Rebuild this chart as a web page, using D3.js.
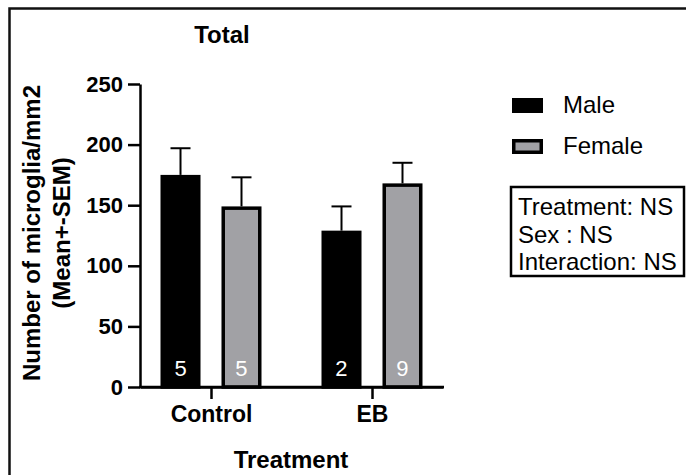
<!DOCTYPE html>
<html>
<head>
<meta charset="utf-8">
<script src="https://cdn.jsdelivr.net/npm/d3@7"></script>
<style>
  body { margin: 0; background: #fff; }
  svg { display: block; font-family: Arial, "Liberation Sans", sans-serif; }
</style>
</head>
<body>
<svg width="686" height="475"></svg>
<script>
var groups = ["Control", "EB"];
var sexes = ["Male", "Female"];
var maleMean = [175, 129];
var femaleMean = [149, 168];
var maleSem = [22, 20];
var femaleSem = [24, 17];
var maleN = [5, 2];
var femaleN = [5, 9];
var yTicks = [0, 50, 100, 150, 200, 250];
var statsLines = ["Treatment: NS", "Sex : NS", "Interaction: NS"];

var colors = {Male: "#000000", Female: "#a1a1a5"};

var data = [];
groups.forEach(function(g, i){
    data.push({group: g, sex: "Male", mean: maleMean[i], sem: maleSem[i], n: maleN[i]});
    data.push({group: g, sex: "Female", mean: femaleMean[i], sem: femaleSem[i], n: femaleN[i]});
});

var svg = d3.select("svg");

// outer frame (runs off right / bottom edge)
svg.append("rect")
    .attr("x", 9.5).attr("y", 8.5)
    .attr("width", 760).attr("height", 560)
    .attr("fill", "none")
    .attr("stroke", "#111")
    .attr("stroke-width", 2.5);

var y = d3.scaleLinear().domain([0, 250]).range([387, 84]);
var x = d3.scalePoint().domain(groups).range([140, 443]).padding(0.441);
var xs = d3.scaleBand().domain(sexes).range([-50.5, 50.5]).paddingInner(0.344);

var yAxis = svg.append("g")
    .attr("transform", "translate(140,0)")
    .call(d3.axisLeft(y).tickValues(yTicks).tickSize(12).tickSizeOuter(0).tickPadding(5));
var xAxis = svg.append("g")
    .attr("transform", "translate(0,387)")
    .call(d3.axisBottom(x).tickSize(12).tickSizeOuter(0).tickPadding(7));

[yAxis, xAxis].forEach(function(a){
    a.selectAll("path, line").attr("stroke", "#000").attr("stroke-width", 2.5);
    a.selectAll("text")
        .attr("fill", "#000")
        .attr("font-family", "Arial, 'Liberation Sans', sans-serif")
        .attr("font-weight", "bold");
});
yAxis.selectAll("text").attr("font-size", 22);
xAxis.selectAll("text").attr("font-size", 23);

var sw = 3.5;
var bar = svg.append("g").selectAll("g")
    .data(data)
    .enter().append("g")
        .attr("transform", function(d){ return "translate(" + (x(d.group) + xs(d.sex)) + ",0)"; });

// error bars first so the bar covers the lower part
bar.append("line")
    .attr("x1", xs.bandwidth() / 2).attr("x2", xs.bandwidth() / 2)
    .attr("y1", function(d){ return y(d.mean); })
    .attr("y2", function(d){ return y(d.mean + d.sem); })
    .attr("stroke", "#000").attr("stroke-width", 2);
bar.append("line")
    .attr("x1", xs.bandwidth() / 2 - 10).attr("x2", xs.bandwidth() / 2 + 10)
    .attr("y1", function(d){ return y(d.mean + d.sem); })
    .attr("y2", function(d){ return y(d.mean + d.sem); })
    .attr("stroke", "#000").attr("stroke-width", 2);

bar.append("rect")
    .attr("x", sw / 2)
    .attr("y", function(d){ return y(d.mean) + sw / 2; })
    .attr("width", xs.bandwidth() - sw)
    .attr("height", function(d){ return y(0) - y(d.mean) - sw / 2; })
    .attr("fill", function(d){ return colors[d.sex]; })
    .attr("stroke", "#000")
    .attr("stroke-width", sw);

bar.append("text")
    .attr("x", xs.bandwidth() / 2)
    .attr("y", 376)
    .attr("text-anchor", "middle")
    .attr("fill", "#fff")
    .attr("font-size", 22)
    .text(function(d){ return d.n; });

svg.append("rect")
    .attr("x", 139).attr("y", 385.75).attr("width", 305).attr("height", 2.5)
    .attr("fill", "#000");

// titles
svg.append("text")
    .attr("x", 222).attr("y", 43)
    .attr("text-anchor", "middle")
    .attr("font-weight", "bold").attr("font-size", 24)
    .text("Total");

svg.append("text")
    .attr("x", 291).attr("y", 468)
    .attr("text-anchor", "middle")
    .attr("font-weight", "bold").attr("font-size", 24)
    .text("Treatment");

var yTitle = svg.append("text")
    .attr("transform", "translate(0,233) rotate(-90)")
    .attr("text-anchor", "middle")
    .attr("font-weight", "bold").attr("font-size", 24);
yTitle.append("tspan").attr("x", 0).attr("y", 40).text("Number of microglia/mm2");
yTitle.append("tspan").attr("x", 0).attr("y", 70).text("(Mean+-SEM)");

// legend
var legend = svg.append("g").selectAll("g")
    .data(sexes)
    .enter().append("g")
        .attr("transform", function(d, i){ return "translate(512," + (98 + i * 41) + ")"; });
legend.append("rect")
    .attr("x", sw / 2).attr("y", sw / 2)
    .attr("width", 31 - sw).attr("height", 15 - sw)
    .attr("fill", function(d){ return colors[d]; })
    .attr("stroke", "#000").attr("stroke-width", sw);
legend.append("text")
    .attr("x", 51).attr("y", 15)
    .attr("font-size", 24)
    .text(function(d){ return d; });

// stats box
svg.append("rect")
    .attr("x", 511).attr("y", 187)
    .attr("width", 173).attr("height", 89)
    .attr("fill", "#fff")
    .attr("stroke", "#000").attr("stroke-width", 2.5);
svg.append("g").selectAll("text")
    .data(statsLines)
    .enter().append("text")
        .attr("x", 518)
        .attr("y", function(d, i){ return 215 + i * 27.5; })
        .attr("font-size", 24)
        .text(function(d){ return d; });
</script>
</body>
</html>
